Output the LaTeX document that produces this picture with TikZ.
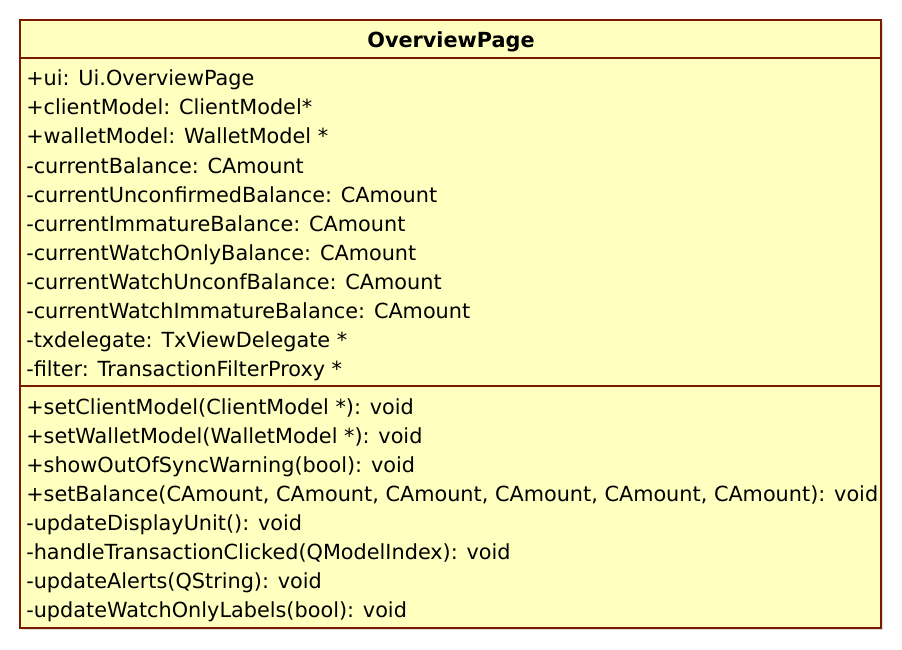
\documentclass[tikz,border=0pt]{standalone}
\usepackage{fontspec}
\setmainfont{DejaVu Sans}
\definecolor{classfill}{HTML}{FFFFC0}
\definecolor{classline}{HTML}{7A1A00}
\begin{document}
\begin{tikzpicture}[x=0.75pt,y=-0.75pt,
  member/.style={anchor=base west,inner sep=0pt,font=\fontsize{15.6pt}{18pt}\selectfont},
  classname/.style={anchor=base,inner sep=0pt,font=\fontsize{15.6pt}{18pt}\selectfont\bfseries}]
\useasboundingbox (0,0) rectangle (902,649);
% class box with a faint shadow
\fill[black!12] (22,22) rectangle (883,630);
\draw[classline,fill=classfill,line width=0.9pt] (20,20) rectangle (881,628);
\draw[classline,line width=0.9pt] (20,58) -- (881,58);
\draw[classline,line width=0.9pt] (20,386) -- (881,386);
\node[classname] (title) at (451,48) {OverviewPage};
% attributes
\foreach \t [count=\i] in {
  {+ui: Ui.OverviewPage},
  {+clientModel: ClientModel*},
  {+walletModel: WalletModel *},
  {-currentBalance: CAmount},
  {-currentUnconfirmedBalance: CAmount},
  {-currentImmatureBalance: CAmount},
  {-currentWatchOnlyBalance: CAmount},
  {-currentWatchUnconfBalance: CAmount},
  {-currentWatchImmatureBalance: CAmount},
  {-txdelegate: TxViewDelegate *},
  {-filter: TransactionFilterProxy *}}
  \node[member] (a\i) at (26,{86+29*(\i-1)}) {\t};
% operations
\foreach \t [count=\i] in {
  {+setClientModel(ClientModel *): void},
  {+setWalletModel(WalletModel *): void},
  {+showOutOfSyncWarning(bool): void},
  {+setBalance(CAmount, CAmount, CAmount, CAmount, CAmount, CAmount): void},
  {-updateDisplayUnit(): void},
  {-handleTransactionClicked(QModelIndex): void},
  {-updateAlerts(QString): void},
  {-updateWatchOnlyLabels(bool): void}}
  \node[member] (m\i) at (26,{414+29*(\i-1)}) {\t};
\end{tikzpicture}
\end{document}
